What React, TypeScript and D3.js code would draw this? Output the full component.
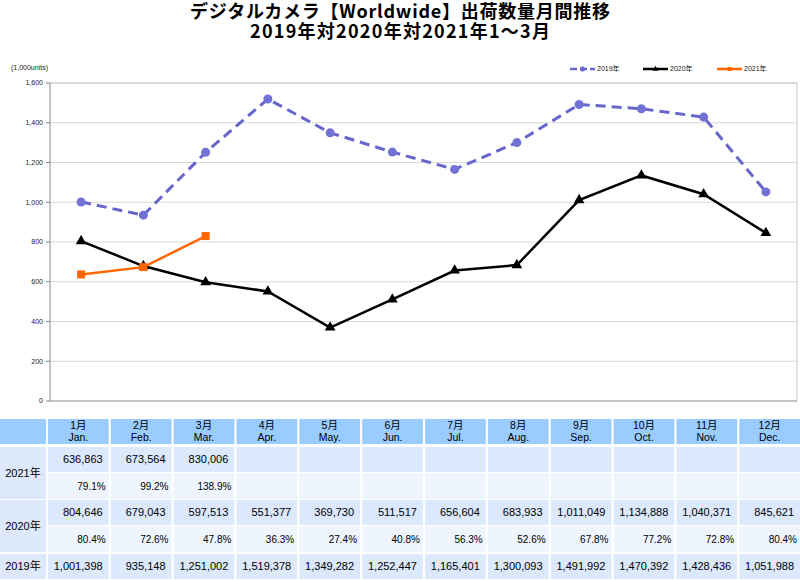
import * as d3 from "d3";

const months = ["1月", "2月", "3月", "4月", "5月", "6月", "7月", "8月", "9月", "10月", "11月", "12月"];
const monthsEn = ["Jan.", "Feb.", "Mar.", "Apr.", "May.", "Jun.", "Jul.", "Aug.", "Sep.", "Oct.", "Nov.", "Dec."];

const units2019 = [1001398, 935148, 1251002, 1519378, 1349282, 1252447, 1165401, 1300093, 1491992, 1470392, 1428436, 1051988];
const units2020 = [804646, 679043, 597513, 551377, 369730, 511517, 656604, 683933, 1011049, 1134888, 1040371, 845621];
const units2021 = [636863, 673564, 830006];
const ratio2020 = [80.4, 72.6, 47.8, 36.3, 27.4, 40.8, 56.3, 52.6, 67.8, 77.2, 72.8, 80.4];
const ratio2021 = [79.1, 99.2, 138.9];

const yTicks = [0, 200, 400, 600, 800, 1000, 1200, 1400, 1600];

const W = 800;
const H = 580;
const plot = { left: 50, right: 797, top: 83, bottom: 401 };

const C2019 = "#6666cc";
const C2020 = "#000000";
const C2021 = "#ff6600";
const JP = "'Liberation Sans', 'Noto Sans CJK JP', sans-serif";

export default function App() {
  const x = d3.scaleBand<string>().domain(months).range([plot.left, plot.right]);
  const cx = (i: number) => x(months[i])! + x.bandwidth() / 2;
  const y = d3.scaleLinear().domain([0, 1600]).range([plot.bottom, plot.top]);
  const fmtK = d3.format(",");

  const line = d3.line<number>().x((_, i) => cx(i)).y((v) => y(v / 1000));
  const tri = d3.symbol().type(d3.symbolTriangle).size(50)()!;
  const sq = d3.symbol().type(d3.symbolSquare).size(64)()!;

  // table geometry
  const col = d3.scaleBand<string>().domain(months).range([48, 800]).paddingInner(0.035);
  const rows = {
    head: [419, 444],
    a21: [447, 472],
    b21: [473, 499],
    a20: [500, 525],
    b20: [526, 552],
    a19: [554, 579],
  };
  const fmtInt = d3.format(",");

  const valueRow = (r: number[], vals: (string | null)[], fill: string, pad: number, size: number) =>
    months.map((m, i) => (
      <g key={m}>
        <rect x={col(m)} y={r[0]} width={col.bandwidth()} height={r[1] - r[0]} fill={fill} />
        {vals[i] != null && (
          <text x={col(m)! + col.bandwidth() - pad} y={(r[0] + r[1]) / 2} dy="0.35em" textAnchor="end"
            fontSize={size} fill="#000">{vals[i]}</text>
        )}
      </g>
    ));

  const yearCell = (label: string, r0: number, r1: number) => (
    <g>
      <rect x={0} y={r0} width={46} height={r1 - r0} fill="#dde9fb" />
      <text x={23} y={(r0 + r1) / 2} dy="0.35em" textAnchor="middle" fontSize={11} fill="#000">{label}</text>
    </g>
  );

  const legend = [
    { label: "2019年", color: C2019, x0: 570, kind: "circle" },
    { label: "2020年", color: C2020, x0: 643, kind: "tri" },
    { label: "2021年", color: C2021, x0: 717, kind: "sq" },
  ];

  return (
    <svg width={W} height={H} style={{ position: "absolute", left: 0, top: 0, background: "#fff" }} fontFamily={JP}>
      {/* title */}
      <text x={400} y={18} textAnchor="middle" fontSize={18} fontWeight="bold" textLength={420} lengthAdjust="spacing"
        fontFamily="'Noto Sans CJK JP', sans-serif">
        デジタルカメラ【Worldwide】出荷数量月間推移
      </text>
      <text x={400} y={38} textAnchor="middle" fontSize={18} fontWeight="bold" textLength={300} lengthAdjust="spacing"
        fontFamily="'Noto Sans CJK JP', sans-serif">
        2019年対2020年対2021年1～3月
      </text>

      <text x={11} y={70} fontSize={7} fill="#222">(1,000units)</text>

      {/* legend */}
      {legend.map((d) => (
        <g key={d.label}>
          <line x1={d.x0} x2={d.x0 + 25} y1={69} y2={69} stroke={d.color} strokeWidth={2.5}
            strokeDasharray={d.kind === "circle" ? "7,3" : undefined} />
          {d.kind === "circle" && <circle cx={d.x0 + 12.5} cy={69} r={2.5} fill={d.color} />}
          {d.kind === "tri" && <path d={d3.symbol().type(d3.symbolTriangle).size(14)()!} transform={`translate(${d.x0 + 12.5},69)`} fill={d.color} />}
          {d.kind === "sq" && <rect x={d.x0 + 10.5} y={67} width={4} height={4} fill={d.color} />}
          <text x={d.x0 + 27} y={69} dy="0.35em" fontSize={7} fill="#222">{d.label}</text>
        </g>
      ))}

      {/* grid */}
      {yTicks.map((t) => (
        <g key={t}>
          {t > 0 && <line x1={plot.left} x2={plot.right} y1={y(t)} y2={y(t)} stroke="#d9d9d9" strokeWidth={1} />}
          <line x1={plot.left - 4} x2={plot.left} y1={y(t)} y2={y(t)} stroke="#888" />
          <text x={plot.left - 7} y={y(t)} dy="0.35em" textAnchor="end" fontSize={7} fill="#222">{fmtK(t)}</text>
        </g>
      ))}
      <line x1={plot.right} x2={plot.right} y1={plot.top} y2={plot.bottom} stroke="#c8c8c8" />
      <line x1={plot.left} x2={plot.right} y1={plot.top} y2={plot.top} stroke="#c8c8c8" />
      <line x1={plot.left} x2={plot.left} y1={plot.top} y2={plot.bottom} stroke="#888" />
      <line x1={plot.left} x2={plot.right} y1={plot.bottom} y2={plot.bottom} stroke="#888" />

      {/* series */}
      <path d={line(units2019)!} fill="none" stroke={C2019} strokeWidth={3} strokeDasharray="10,6" />
      {units2019.map((v, i) => (
        <circle key={i} cx={cx(i)} cy={y(v / 1000)} r={4.5} fill="#7272d6" />
      ))}
      <path d={line(units2020)!} fill="none" stroke={C2020} strokeWidth={2.5} />
      {units2020.map((v, i) => (
        <path key={i} d={tri} transform={`translate(${cx(i)},${y(v / 1000)})`} fill={C2020} />
      ))}
      <path d={line(units2021)!} fill="none" stroke={C2021} strokeWidth={2.5} />
      {units2021.map((v, i) => (
        <path key={i} d={sq} transform={`translate(${cx(i)},${y(v / 1000)})`} fill={C2021} />
      ))}

      {/* table header */}
      <rect x={0} y={rows.head[0]} width={46} height={rows.head[1] - rows.head[0]} fill="#99ccff" />
      {months.map((m, i) => (
        <g key={m}>
          <rect x={col(m)} y={rows.head[0]} width={col.bandwidth()} height={rows.head[1] - rows.head[0]} fill="#99ccff" />
          <text x={col(m)! + col.bandwidth() / 2} y={rows.head[0] + 10} textAnchor="middle" fontSize={10.5} fill="#000">{m}</text>
          <text x={col(m)! + col.bandwidth() / 2} y={rows.head[0] + 22} textAnchor="middle" fontSize={10.5} fill="#000">{monthsEn[i]}</text>
        </g>
      ))}

      {yearCell("2021年", rows.a21[0], rows.b21[1])}
      {valueRow(rows.a21, months.map((_, i) => (i < units2021.length ? fmtInt(units2021[i]) : null)), "#dce8fb", 6, 11)}
      {valueRow(rows.b21, months.map((_, i) => (i < ratio2021.length ? ratio2021[i].toFixed(1) + "%" : null)), "#eef5fe", 3, 10)}

      {yearCell("2020年", rows.a20[0], rows.b20[1])}
      {valueRow(rows.a20, units2020.map((v) => fmtInt(v)), "#dce8fb", 6, 11)}
      {valueRow(rows.b20, ratio2020.map((v) => v.toFixed(1) + "%"), "#eef5fe", 3, 10)}

      {yearCell("2019年", rows.a19[0], rows.a19[1])}
      {valueRow(rows.a19, units2019.map((v) => fmtInt(v)), "#dce8fb", 6, 11)}
    </svg>
  );
}
